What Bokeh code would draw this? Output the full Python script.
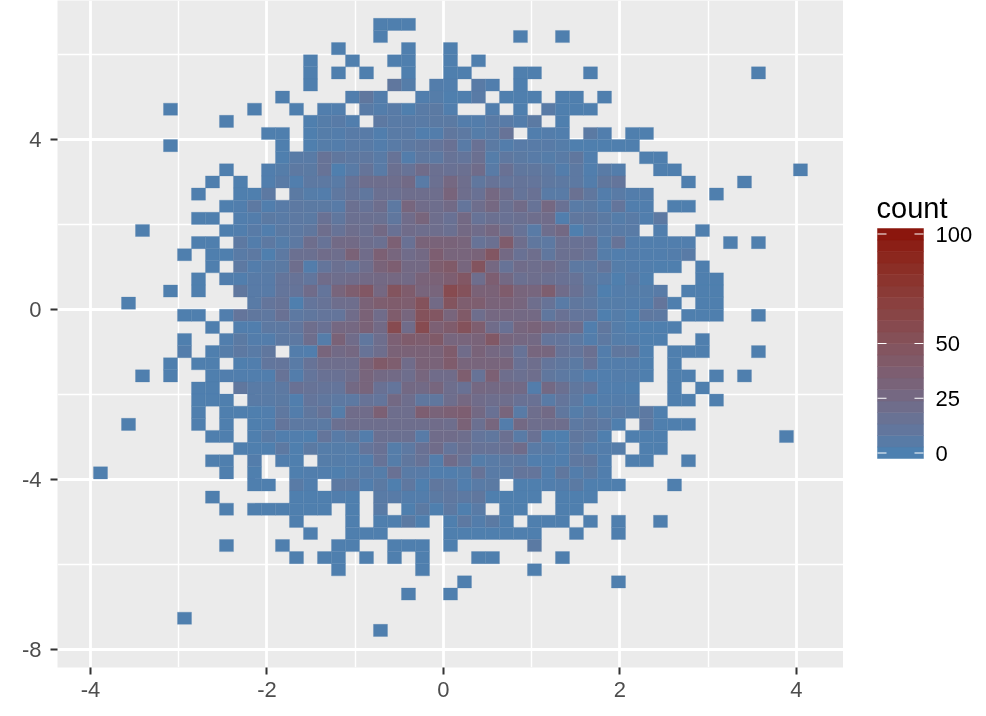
from math import pi
import numpy as np
from bokeh.embed import file_html
from bokeh.layouts import row
from bokeh.models import ColumnDataSource, FixedTicker, Label, LinearColorMapper, Range1d
from bokeh.plotting import figure
from bokeh.resources import INLINE
from bokeh.core.properties import value

# bin grid of the 2-d histogram
X_FIRST_EDGE = -3.966
X_BIN = 0.15864
Y_TOP_EDGE = 6.851
Y_BIN = 0.28513
LOW_COLOR = "#4682B4"
HIGH_COLOR = "#8B1008"
COUNT_LIMITS = (-2.5, 102.5)
LEGEND_TICKS = [0, 25, 50, 100]
X_TICKS = [-4, -2, 0, 2, 4]
X_MINOR = [-3, -1, 1, 3]
Y_TICKS = [-8, -4, 0, 4]
Y_MINOR = [-6, -2, 2, 6]

# counts by row from the top: (first column, [counts from that column on])
ROWS = [
 [(20,[1,1,1])],
 [(20,[1]),(30,[1]),(33,[1])],
 [(17,[1]),(22,[1]),(25,[1])],
 [(15,[1]),(18,[1]),(21,[1,1]),(25,[1]),(27,[1])],
 [(15,[1]),(17,[1]),(19,[1]),(22,[1]),(25,[1,1]),(30,[1,1]),(35,[1]),(47,[1])],
 [(15,[1]),(21,[10,4]),(24,[3,2]),(27,[6,2]),(30,[1])],
 [(13,[1]),(18,[2,10,3]),(23,[2,4,1,1,6]),(29,[1,1,1]),(33,[1,1]),(36,[1])],
 [(5,[1]),(11,[1]),(14,[1]),(16,[2,2]),(19,[6,3,5,1,6,7,2]),(28,[2]),(30,[1]),(32,[6,1,1,1])],
 [(9,[1]),(15,[1,4,5,2]),(20,[8,6,6,6,7,7,3,3,6,5,3,7]),(33,[1])],
 [(12,[1,1]),(15,[1,4,3,5,5,2,6,6,2,3,10,8,4,6,14]),(31,[2,3,2]),(35,[7,2]),(38,[1,1])],
 [(5,[1]),(13,[1]),(15,[1,4,3,6,6,3,6,8,10,12,16,6,16,7,3,5,5,5,4,1,1,1,1,1])],
 [(13,[1,6,6,14,10,8,9,6,14,3,9,8,14,12,18,4,9,7,5,4,6,10,2]),(39,[1,1])],
 [(9,[1]),(12,[2,4,8,7,14,1,6,13,6,18,14,22,18,16,18,22,6,16,10,10,8,3,8,2,6,3]),(40,[1,1]),(50,[1])],
 [(8,[1]),(10,[1]),(12,[2,6,2,8,8,6,14,20,20,20,24,6,18,27,20,10,14,12,13,12,9,8,8,3,10,12]),(42,[1]),(46,[1])],
 [(7,[1]),(10,[1,1,8]),(14,[7,4,3,9,13,10,18,18,20,20,20,31,20,16,27,20,13,16,6,6,17,10,3,6,3,3]),(44,[1])],
 [(9,[1,2,8,2,5,8,7,7,5,18,14,20,8,29,22,20,24,12,20,27,17,23,14,27,16,6,7,3,12,2,2]),(41,[1,1])],
 [(7,[1,1]),(10,[2,3,7,6,8,7,16,10,18,18,17,10,22,30,20,16,25,14,18,16,18,20,22,2,10,10,7,4,6,2,8])],
 [(3,[1]),(9,[1,2,5,2,7,8,10,20,14,20,18,25,16,22,20,20,18,25,22,27,20,14,6,20,25,1,8,6,6,6]),(40,[2]),(43,[1])],
 [(7,[1,1]),(10,[8,3,8,4,8,20,14,24,24,20,18,35,16,32,32,32,30,14,18,40,20,10,8,18,16,16,4,14,3,2,2,2,2]),(45,[1]),(47,[1])],
 [(6,[1]),(8,[1,1,6,8,1,8,18,18,22,20,33,22,35,29,22,25,37,30,30,32,46,25,16,20,10,18,18,14,4,2,3,2,2,3,6])],
 [(8,[1]),(10,[8,3,6,7,20,3,12,18,14,20,32,37,25,25,38,42,29,48,27,14,22,20,22,18,8,8,12,4,3,2,1,1]),(43,[1])],
 [(7,[1]),(9,[2,2,5,5,12,14,11,22,20,22,24,25,27,24,32,33,37,45,20,37,25,18,20,18,16,14,8,6,1,5,1]),(43,[1,1])],
 [(5,[1]),(7,[1]),(10,[10,5,5,12,13,22,12,30,38,45,27,48,40,30,30,57,50,33,33,40,30,29,38,22,16,10,1,3,4,4,5]),(42,[1,1,1])],
 [(2,[1]),(11,[6,12,14,1,12,14,20,20,33,38,40,38,50,24,48,38,38,32,32,29,20,14,6,10,8,4,4,3,3,12,1]),(43,[1,1])],
 [(6,[1,1]),(9,[2,12,10,9,16,8,10,12,12,22,33,22,40,29,50,46,30,42,20,27,27,25,25,10,16,12,12,1,4,1,9,8]),(42,[1,1,1]),(47,[1])],
 [(8,[1]),(10,[2,2,8,8,11,20,16,27,27,33,24,57,22,57,35,40,50,38,22,16,29,32,27,22,20,2,10,4,1,1,1,1])],
 [(6,[1]),(9,[2,7,3,3,8,8,20,4,33,22,10,20,35,40,38,42,29,30,32,44,29,27,25,12,12,8,3,8,4,3,1,1]),(43,[1])],
 [(6,[3]),(8,[1,4,8,6,10]),(14,[3,2,30,24,27,14,20,33,33,33,32,40,22,32,27,24,14,29,29,14,12,18,3,10,10,1]),(41,[1,1,1]),(47,[1])],
 [(5,[1]),(7,[1,1]),(10,[1,2,11,12,6,14,20,20,20,32,42,38,22,33,32,40,30,30,30,30,16,20,12,10,7,14,3,3,3,1]),(41,[1])],
 [(3,[1]),(5,[1]),(8,[1,2,2,2,2,14,3,12,16,16,20,30,25,24,20,29,22,22,38,14,35,20,18,20,10,8,6,2,2,3,3,1]),(41,[1,1]),(44,[1]),(46,[1])],
 [(7,[1,1]),(10,[10,6,6,8,16,14,13,12,25,30,16,12,25,24,29,20,16,27,25,25,24,3,25,18,10,12,2,2,1]),(41,[1]),(43,[1])],
 [(7,[1,1,1]),(11,[6,6,7,2,12,10,8,8,14,12,25,20,10,10,20,27,22,20,20,16,16,6,12,8,1,3,3,3]),(41,[1,1]),(44,[1])],
 [(7,[1]),(9,[1,1,1,2,9,3,10,14,4,22,22,35,20,20,37,32,35,37,25,16,30,6,20,24,10,4,8,4,6,4,8,1])],
 [(2,[1]),(7,[1]),(9,[1]),(11,[1,2,12,8,8,7,18,20,20,20,20,20,20,22,20,33,18,29,3,25,20,20,20,8,10,8,1]),(39,[8,1,1,1])],
 [(8,[1,1]),(11,[1,6,2,2,1,12,5,10,3,18,18,18,5,22,22,20,12,10,18,6,16,1,1,10,8,1]),(38,[1,1,1]),(49,[1])],
 [(10,[1,1,1,8,1,7,4,4,4,12,16,4,8,16,22,12,18,14,14,16,22,6,6,2,8,3,3,4]),(39,[1,1])],
 [(8,[1,1]),(11,[3]),(13,[2,1]),(16,[4,4,3,3,14,4,10,14,3,22,14,4,6,8,8,2,2,2,9,10,2]),(38,[1,1]),(42,[1])],
 [(0,[1]),(9,[1]),(11,[1]),(14,[1,2,2,1,4,6,4,16,6,5,2,2,4,14,6,6,12,12,2,10,3,7,2])],
 [(11,[1,1]),(14,[6,2]),(17,[8,8,2,7,1,9,1,10,8,2,6,7]),(30,[1,1,2,3,7,1,1,1]),(41,[1])],
 [(8,[1]),(14,[1,1,1,2,1]),(20,[6,5,3,3,7,9,8,10,1,1,1,1]),(33,[1,1,1])],
 [(9,[1]),(11,[1,1,1,1,1,1]),(18,[1]),(20,[6]),(22,[1,7,1,8,1,6]),(29,[1,1]),(33,[1,1])],
 [(14,[1]),(18,[1]),(20,[1,1,7,1]),(25,[1,8,3,7,1]),(31,[1,1,1]),(35,[1]),(37,[1]),(40,[1])],
 [(15,[1]),(18,[1,1,1]),(25,[1,1,1,1,1,1,1]),(34,[1]),(37,[1])],
 [(9,[1]),(13,[1]),(17,[1,1]),(21,[1,1,1]),(25,[1]),(31,[7])],
 [(14,[1]),(16,[1,1]),(19,[1]),(21,[1]),(23,[1]),(27,[1,1]),(33,[1])],
 [(17,[1]),(23,[1]),(31,[1])],
 [(26,[1]),(37,[1])],
 [(22,[1]),(25,[1])],
 [],
 [(6,[1])],
 [(20,[1])],
]


def _to_lab(hexcolor):
    rgb = np.array([int(hexcolor[i:i + 2], 16) for i in (1, 3, 5)]) / 255
    lin = np.where(rgb > 0.04045, ((rgb + 0.055) / 1.055) ** 2.4, rgb / 12.92)
    m = np.array([[0.4124564, 0.3575761, 0.1804375],
                  [0.2126729, 0.7151522, 0.0721750],
                  [0.0193339, 0.1191920, 0.9503041]])
    xyz = m @ lin / np.array([0.95047, 1.0, 1.08883])
    f = np.where(xyz > 0.008856, np.cbrt(xyz), 7.787 * xyz + 16 / 116)
    return np.array([116 * f[1] - 16, 500 * (f[0] - f[1]), 200 * (f[1] - f[2])])


def _from_lab(lab):
    fy = (lab[0] + 16) / 116
    f = np.array([fy + lab[1] / 500, fy, fy - lab[2] / 200])
    xyz = np.where(f ** 3 > 0.008856, f ** 3, (f - 16 / 116) / 7.787) * np.array([0.95047, 1.0, 1.08883])
    m = np.array([[3.2404542, -1.5371385, -0.4985314],
                  [-0.9692660, 1.8760108, 0.0415560],
                  [0.0556434, -0.2040259, 1.0572252]])
    lin = np.clip(m @ xyz, 0, 1)
    rgb = np.where(lin > 0.0031308, 1.055 * lin ** (1 / 2.4) - 0.055, 12.92 * lin)
    return "#%02x%02x%02x" % tuple(int(round(v * 255)) for v in rgb)


lab_a, lab_b = _to_lab(LOW_COLOR), _to_lab(HIGH_COLOR)
palette = [_from_lab(lab_a + (lab_b - lab_a) * t) for t in np.linspace(0, 1, 256)]
mapper = LinearColorMapper(palette=palette, low=COUNT_LIMITS[0], high=COUNT_LIMITS[1])

left, right, top, bottom, count = [], [], [], [], []
for r, segments in enumerate(ROWS):
    for start, values in segments:
        for k, v in enumerate(values):
            if v > 0:
                c = start + k
                left.append(X_FIRST_EDGE + c * X_BIN)
                right.append(X_FIRST_EDGE + (c + 1) * X_BIN)
                top.append(Y_TOP_EDGE - r * Y_BIN)
                bottom.append(Y_TOP_EDGE - (r + 1) * Y_BIN)
                count.append(v)
cells = ColumnDataSource(dict(left=left, right=right, top=top, bottom=bottom, count=count))

FONT = "Liberation Sans"
p = figure(width=843, height=716, output_backend="svg", toolbar_location=None,
           x_range=Range1d(-4.374, 4.533), y_range=Range1d(-8.421, 7.271),
           min_border_left=57, min_border_right=0, min_border_top=0, min_border_bottom=49,
           background_fill_color="#EBEBEB", border_fill_color="white", outline_line_color=None)
fill = {"field": "count", "transform": mapper}
p.quad(left="left", right="right", top="top", bottom="bottom", source=cells,
       fill_color=fill, line_color=fill, line_width=0.3)

for axis, ticks, standoff in ((p.xaxis[0], X_TICKS, 7), (p.yaxis[0], Y_TICKS, 9)):
    axis.ticker = FixedTicker(ticks=ticks)
    axis.major_label_overrides = {t: str(t) for t in ticks}
    axis.axis_line_color = None
    axis.major_tick_line_color = "#333333"
    axis.major_tick_line_width = 2
    axis.major_tick_in = 0
    axis.major_tick_out = 7
    axis.minor_tick_line_color = None
    axis.major_label_text_font = FONT
    axis.major_label_text_font_size = "22px"
    axis.major_label_text_color = "#4D4D4D"
    axis.major_label_standoff = standoff
for grid, ticks, minor in ((p.xgrid[0], X_TICKS, X_MINOR), (p.ygrid[0], Y_TICKS, Y_MINOR)):
    grid.ticker = FixedTicker(ticks=ticks, minor_ticks=minor)
    grid.grid_line_color = "white"
    grid.grid_line_width = 2.8
    grid.minor_grid_line_color = "white"
    grid.minor_grid_line_width = 1.4

p.add_layout(Label(x=0.075, y=-8.421, text="x", text_font=FONT, text_font_size="29px",
                   text_color="black", text_align="center", text_baseline="top", y_offset=-43))
p.add_layout(Label(x=-4.374, y=-0.27, text="y", text_font=FONT, text_font_size="29px", angle=pi / 2,
                   text_color="black", text_align="center", text_baseline="bottom", x_offset=-45))

# colour bar panel: horizontal range is pixels of the panel, vertical range is the count
PX_PER_COUNT = 2.19
ZERO_AT = 452.5
FRAME_BOTTOM = 667
leg = figure(width=143, height=716, output_backend="svg", toolbar_location=None,
             x_range=Range1d(0, 143), y_range=Range1d((ZERO_AT - FRAME_BOTTOM) / PX_PER_COUNT, ZERO_AT / PX_PER_COUNT),
             min_border=0, outline_line_color=None, background_fill_color="white", border_fill_color="white")
leg.axis.visible = False
leg.grid.visible = False
edges = np.linspace(COUNT_LIMITS[0], COUNT_LIMITS[1], 21)
band = ColumnDataSource(dict(bottom=edges[:-1], top=edges[1:], mid=(edges[:-1] + edges[1:]) / 2))
band_fill = {"field": "mid", "transform": mapper}
leg.quad(left=34, right=80, bottom="bottom", top="top", source=band,
         fill_color=band_fill, line_color=band_fill, line_width=0.5)
leg.segment(x0=34, x1=43, y0=LEGEND_TICKS, y1=LEGEND_TICKS, line_color="white", line_width=1.2)
leg.segment(x0=71, x1=80, y0=LEGEND_TICKS, y1=LEGEND_TICKS, line_color="white", line_width=1.2)
leg.text(x=92, y=LEGEND_TICKS, text=[str(t) for t in LEGEND_TICKS], text_font=value(FONT),
         text_font_size="22px", text_color="black", text_baseline="middle", text_align="left")
leg.add_layout(Label(x=33, y=112, text="count", text_font=FONT, text_font_size="29px",
                     text_color="black", text_baseline="middle", text_align="left"))

layout = row(p, leg, spacing=0, styles={"position": "fixed", "left": "0px", "top": "0px"})
open("out.html", "w").write(file_html(layout, INLINE))
